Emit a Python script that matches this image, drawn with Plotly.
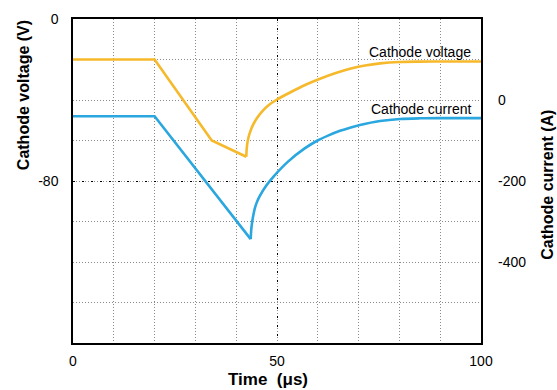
import plotly.graph_objects as go

# Cathode voltage trace (time in us, voltage in V)
volt_t = [0, 20, 34, 42.48, 42.55, 42.72, 43.01, 43.38, 44.12, 45.10, 46.32, 47.92, 50.0,
          53.19, 56.86, 60.54, 64.22, 67.89, 71.57, 75.25, 80.15, 85.05, 89.95, 100]
volt_v = [-20, -20, -60, -68.0, -64.7, -61.4, -58.5, -56.0, -52.3, -48.9, -45.7, -42.6, -39.75,
          -36.3, -32.6, -29.5, -26.8, -24.6, -23.0, -21.9, -21.2, -21.04, -21.0, -21.0]

# Cathode current trace (time in us, current in A)
curr_t = [0, 20, 43.55, 43.68, 43.87, 44.17, 44.53, 45.05, 45.76, 47.38, 49.26, 52.70, 56.79,
          60.05, 62.5, 65.44, 67.89, 70.34, 75.25, 80.15, 85.05, 89.95, 100]
curr_i = [-40, -40, -343.6, -321.5, -304.3, -285.9, -268.7, -252.8, -237.3, -211.0, -187.7, -152.1,
          -119.6, -99.4, -87.9, -76.1, -68.3, -61.8, -52.0, -46.9, -45.2, -44.7, -44.7]

x_ticks = [0, 50, 100]
v_ticks = [0, -80]
v_labels = ["0", "-80"]
i_ticks = [0, -200, -400]
i_labels = ["0", "-200", "-400"]

YELLOW = "#F6B92B"
BLUE = "#2AA7DF"
FONT = "Liberation Sans"
LW = 2.6
GRID_FINE = dict(showgrid=True, gridcolor="#8a8a8a", griddash="1px,2px", gridwidth=1, ticklen=0)


def add_waveform(fig, t, y, color, axis):
    """Straight ramp up to the turning point, smooth recovery after it."""
    k = y.index(min(y))
    fig.add_trace(go.Scatter(x=t[:k + 1], y=y[:k + 1], mode="lines", yaxis=axis,
                             line=dict(color=color, width=LW), showlegend=False))
    fig.add_trace(go.Scatter(x=t[k:], y=y[k:], mode="lines", yaxis=axis,
                             line=dict(color=color, width=LW, shape="spline", smoothing=0.8),
                             showlegend=False))


fig = go.Figure()
add_waveform(fig, volt_t, volt_v, YELLOW, "y")
add_waveform(fig, curr_t, curr_i, BLUE, "y2")

fig.update_layout(
    width=557, height=390,
    margin=dict(l=73, r=76, t=19, b=47, autoexpand=False),
    plot_bgcolor="white", paper_bgcolor="white",
    font=dict(family=FONT, size=14, color="black"),
    xaxis=dict(
        range=[0, 100], tickvals=x_ticks, ticks="", showgrid=True,
        gridcolor="black", griddash="2px,7px", gridwidth=1.4,
        minor=dict(dtick=10, **GRID_FINE),
        showline=True, linecolor="black", linewidth=1.5, mirror=True,
        zeroline=False, ticklabelstandoff=4, automargin=False,
    ),
    yaxis=dict(
        range=[-160, 0], tickvals=v_ticks, ticktext=v_labels, ticks="", showgrid=True,
        gridcolor="black", griddash="2px,7px", gridwidth=1.4,
        minor=dict(dtick=20, **GRID_FINE),
        showline=True, linecolor="black", linewidth=1.5, mirror=True,
        zeroline=False, ticklabelstandoff=10, automargin=False,
    ),
    yaxis2=dict(
        range=[-600, 200], tickvals=i_ticks, ticktext=i_labels, ticks="", showgrid=False,
        overlaying="y", side="right", zeroline=False, showline=False,
        ticklabelstandoff=16, automargin=False,
    ),
    annotations=[
        dict(x=85, y=-16.1, xref="x", yref="y", text="Cathode voltage", showarrow=False,
             font=dict(size=14), xanchor="center", yanchor="middle"),
        dict(x=85.3, y=-22, xref="x", yref="y2", text="Cathode current", showarrow=False,
             font=dict(size=14), xanchor="center", yanchor="middle"),
        # axis titles
        dict(x=0.478, y=-0.114, xref="paper", yref="paper", text="<b>Time\u00a0\u00a0(\u03bcs)</b>",
             showarrow=False, font=dict(size=17), xanchor="center", yanchor="middle"),
        dict(x=-0.1225, y=0.765, xref="paper", yref="paper", text="<b>Cathode voltage (V)</b>",
             showarrow=False, font=dict(size=16), textangle=-90, xanchor="center", yanchor="middle"),
        dict(x=1.164, y=0.488, xref="paper", yref="paper", text="<b>Cathode current (A)</b>",
             showarrow=False, font=dict(size=16), textangle=-90, xanchor="center", yanchor="middle"),
    ],
)

fig.write_html("out.html")
